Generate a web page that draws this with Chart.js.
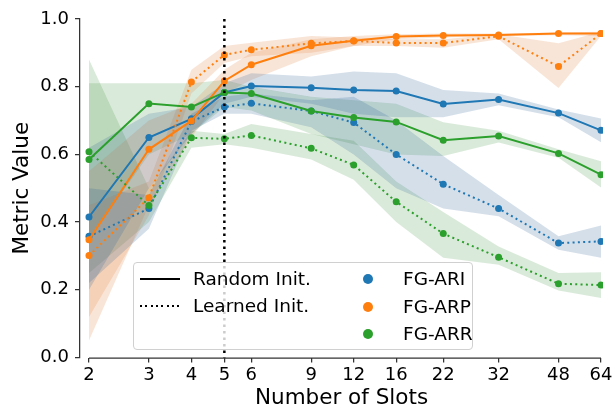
<!DOCTYPE html>
<html>
<head>
<meta charset="utf-8">
<script src="https://cdn.jsdelivr.net/npm/chart.js@4.4.0/dist/chart.umd.min.js"></script>
<style>
  body { margin: 0; background: #fff; }
  #wrap { position: relative; width: 615px; height: 411px; font-family: "DejaVu Sans", sans-serif; }
  #legend { position: absolute; left: 133px; top: 262px; width: 338px; height: 86px;
            border: 1px solid #d0d0d0; border-radius: 4px; background: rgba(255,255,255,0.8); }
  .lg { position: absolute; font-size: 18.5px; line-height: 22px; height: 22px; color: #000; white-space: nowrap; }
  .dot { position: absolute; width: 10px; height: 10px; border-radius: 50%; }
  .solid { position: absolute; width: 40px; height: 2px; background: #000; }
  .dotted { position: absolute; width: 40px; height: 2px;
            background: repeating-linear-gradient(90deg, #000 0 2px, transparent 2px 5.3px); }
</style>
</head>
<body>
<div id="wrap">
  <canvas id="chart" width="615" height="411"></canvas>
  <div id="legend"></div>
</div>
<script>
var slots = [2, 3, 4, 5, 6, 9, 12, 16, 22, 32, 48, 64];
var yTicks = [0, 0.2, 0.4, 0.6, 0.8, 1.0];

// 실선 = Random Init., 점선 = Learned Init.
var ariRandom  = [0.415, 0.650, 0.705, 0.783, 0.802, 0.797, 0.790, 0.787, 0.749, 0.762, 0.722, 0.671];
var ariRandomLo = [0.20, 0.50, 0.66, 0.75, 0.77, 0.75, 0.72, 0.71, 0.71, 0.745, 0.71, 0.636];
var ariRandomHi = [0.62, 0.72, 0.74, 0.81, 0.84, 0.83, 0.845, 0.84, 0.79, 0.78, 0.733, 0.706];
var ariLearned  = [0.358, 0.440, 0.697, 0.740, 0.751, 0.728, 0.694, 0.600, 0.512, 0.440, 0.338, 0.343];
var ariLearnedLo = [0.22, 0.38, 0.67, 0.72, 0.72, 0.68, 0.60, 0.50, 0.44, 0.417, 0.318, 0.295];
var ariLearnedHi = [0.50, 0.48, 0.72, 0.77, 0.78, 0.76, 0.77, 0.70, 0.595, 0.48, 0.358, 0.39];

var arpRandom  = [0.348, 0.615, 0.699, 0.817, 0.865, 0.921, 0.936, 0.948, 0.951, 0.953, 0.957, 0.957];
var arpRandomLo = [0.05, 0.45, 0.65, 0.78, 0.82, 0.89, 0.92, 0.94, 0.945, 0.95, 0.952, 0.95];
var arpRandomHi = [0.55, 0.70, 0.75, 0.85, 0.90, 0.94, 0.95, 0.955, 0.957, 0.957, 0.96, 0.962];
var arpLearned  = [0.301, 0.472, 0.814, 0.894, 0.909, 0.928, 0.935, 0.929, 0.929, 0.949, 0.860, 0.957];
var arpLearnedLo = [0.12, 0.42, 0.78, 0.87, 0.89, 0.90, 0.92, 0.92, 0.915, 0.94, 0.796, 0.95];
var arpLearnedHi = [0.45, 0.52, 0.85, 0.92, 0.93, 0.95, 0.945, 0.94, 0.94, 0.955, 0.928, 0.962];

var arrRandom  = [0.585, 0.750, 0.740, 0.783, 0.780, 0.728, 0.709, 0.696, 0.642, 0.654, 0.603, 0.540];
var arrRandomLo = [0.35, 0.60, 0.66, 0.74, 0.73, 0.66, 0.63, 0.60, 0.595, 0.635, 0.59, 0.502];
var arrRandomHi = [0.81, 0.81, 0.81, 0.82, 0.80, 0.77, 0.76, 0.75, 0.695, 0.67, 0.615, 0.58];
var arrLearned  = [0.608, 0.449, 0.649, 0.646, 0.656, 0.618, 0.569, 0.460, 0.366, 0.296, 0.218, 0.214];
var arrLearnedLo = [0.25, 0.40, 0.62, 0.63, 0.62, 0.585, 0.525, 0.40, 0.295, 0.274, 0.198, 0.176];
var arrLearnedHi = [0.88, 0.50, 0.67, 0.66, 0.69, 0.66, 0.64, 0.52, 0.43, 0.328, 0.25, 0.252];

var blue = '#1f77b4', orange = '#ff7f0e', green = '#2ca02c';
var blueBand = 'rgba(40,95,150,0.2)', orangeBand = 'rgba(225,125,55,0.2)', greenBand = 'rgba(50,140,50,0.18)';

function pts(vals) {
    return vals.map(function (v, i) { return { x: slots[i], y: v }; });
}

var datasets = [];
function addBand(lo, hi, color) {
    datasets.push({ data: pts(lo), borderWidth: 0, pointRadius: 0, fill: false, order: 2 });
    datasets.push({ data: pts(hi), borderWidth: 0, pointRadius: 0, fill: '-1', backgroundColor: color, order: 2 });
}
function addLine(vals, color, dotted) {
    datasets.push({
        data: pts(vals), borderColor: color, backgroundColor: color, borderWidth: 2,
        borderDash: dotted ? [2, 3.3] : [], pointRadius: 3.5, pointBorderWidth: 0,
        pointBackgroundColor: color, fill: false, order: 1
    });
}

addBand(ariRandomLo, ariRandomHi, blueBand);
addBand(ariLearnedLo, ariLearnedHi, blueBand);
addBand(arpRandomLo, arpRandomHi, orangeBand);
addBand(arpLearnedLo, arpLearnedHi, orangeBand);
addBand(arrRandomLo, arrRandomHi, greenBand);
addBand(arrLearnedLo, arrLearnedHi, greenBand);
addLine(arrLearned, green, true);
addLine(arrRandom, green, false);
addLine(arpLearned, orange, true);
addLine(arpRandom, orange, false);
addLine(ariLearned, blue, true);
addLine(ariRandom, blue, false);

// 축선과 x=5 점선
var spines = {
    id: 'spines',
    afterDatasetsDraw: function (chart) {
        var c = chart.ctx, xs = chart.scales.x, ys = chart.scales.y;
        c.save();
        c.strokeStyle = '#000';
        c.lineWidth = 2.5;
        c.setLineDash([2.5, 4]);
        var x5 = xs.getPixelForValue(5);
        c.beginPath();
        c.moveTo(x5, ys.getPixelForValue(1));
        c.lineTo(x5, ys.getPixelForValue(0));
        c.stroke();
        c.setLineDash([]);
        c.strokeStyle = '#333';
        c.lineWidth = 1.25;
        var yb = ys.getPixelForValue(0) + 0.5;
        c.beginPath();
        c.moveTo(xs.getPixelForValue(2), yb);
        c.lineTo(xs.getPixelForValue(64), yb);
        c.stroke();
        c.restore();
    }
};

var ctx = document.getElementById('chart').getContext('2d');
var chart = new Chart(ctx, {
    type: 'line',
    data: { datasets: datasets },
    plugins: [spines],
    options: {
        responsive: false,
        animation: false,
        layout: { padding: { top: 19, right: 12, left: 0, bottom: 0 } },
        plugins: { legend: { display: false }, tooltip: { enabled: false } },
        scales: {
            x: {
                type: 'logarithmic',
                min: 1.882,
                max: 64.87,
                afterFit: function (s) { s.height = 53.5; },
                afterBuildTicks: function (s) { s.ticks = slots.map(function (v) { return { value: v }; }); },
                ticks: { color: '#000', font: { family: 'DejaVu Sans', size: 18 }, padding: 2, maxRotation: 0, autoSkip: false,
                         callback: function (v) { return String(v); } },
                grid: { drawOnChartArea: false, drawTicks: true, tickLength: 5, color: '#333', lineWidth: 1.25 },
                border: { display: false },
                title: { display: true, text: 'Number of Slots', color: '#000', font: { family: 'DejaVu Sans', size: 21.5 }, padding: { top: 3, bottom: 0 } }
            },
            y: {
                min: 0,
                max: 1,
                afterFit: function (s) { s.width = 80; },
                afterBuildTicks: function (s) { s.ticks = yTicks.map(function (v) { return { value: v }; }); },
                ticks: { color: '#000', font: { family: 'DejaVu Sans', size: 18 }, padding: 6,
                         callback: function (v) { return v.toFixed(1); } },
                grid: { drawOnChartArea: false, drawTicks: true, tickLength: 5, color: '#333', lineWidth: 1.25 },
                border: { display: true, color: '#333', width: 1.25 },
                title: { display: true, text: 'Metric Value', color: '#000', font: { family: 'DejaVu Sans', size: 21.5 }, padding: { top: 10, bottom: 0 } }
            }
        }
    }
});

// 범례 (HTML)
var legend = document.getElementById('legend');
function add(html) { legend.insertAdjacentHTML('beforeend', html); }
var styleRows = [['solid', 'Random Init.'], ['dotted', 'Learned Init.']];
styleRows.forEach(function (r, i) {
    var cy = 16 + i * 27;
    add('<div class="' + r[0] + '" style="left:6px;top:' + (cy - 1) + 'px"></div>');
    add('<div class="lg" style="left:59px;top:' + (cy - 11) + 'px">' + r[1] + '</div>');
});
var metricRows = [[blue, 'FG-ARI'], [orange, 'FG-ARP'], [green, 'FG-ARR']];
metricRows.forEach(function (r, i) {
    var cy = 16 + i * 27.5;
    add('<div class="dot" style="background:' + r[0] + ';left:229px;top:' + (cy - 5) + 'px"></div>');
    add('<div class="lg" style="left:269px;top:' + (cy - 11) + 'px">' + r[1] + '</div>');
});
</script>
</body>
</html>
